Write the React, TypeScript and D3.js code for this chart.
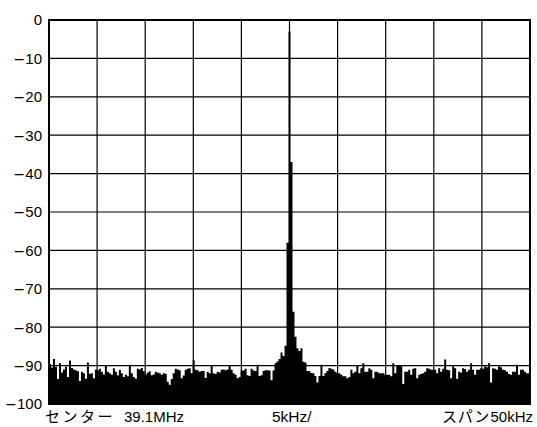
import React from "react";
import * as d3 from "d3";

// Spectrum analyser trace: level (dB) per frequency bin across the 50 kHz span
const levels: number[] = [
  -89.6, -90.5, -88.3, -90.3, -93.5, -89.4, -91.8, -91.0, -90.3, -93.0,
  -88.7, -90.6, -91.0, -91.2, -91.5, -94.0, -91.6, -92.0, -93.4, -89.2,
  -92.1, -92.0, -93.3, -91.0, -91.2, -90.8, -91.6, -92.3, -90.0, -91.6,
  -92.0, -92.4, -90.7, -91.6, -92.5, -91.1, -92.0, -93.0, -92.4, -92.8,
  -89.8, -92.0, -93.0, -93.4, -90.8, -91.0, -90.6, -91.5,
  -92.3, -91.8, -91.5, -92.5, -92.3, -91.6, -91.8, -92.0, -92.4, -92.0,
  -92.1, -94.2, -95.0, -93.5, -92.0, -90.8, -91.0, -91.2, -93.3, -92.6,
  -91.1, -90.8, -90.7, -92.0, -88.6, -91.1, -91.2, -91.6, -91.4, -91.4,
  -93.2, -91.6, -92.0, -89.9, -92.0, -92.2, -91.6, -91.8, -91.1, -91.0,
  -91.2, -91.0, -90.1, -91.1, -92.0, -92.4, -93.3, -93.0,
  -91.3, -91.3, -90.8, -92.5, -92.7, -90.8, -91.3, -91.4, -89.8, -92.7,
  -92.5, -91.4, -91.2, -91.2, -91.3, -93.8, -91.3, -89.4, -88.9, -88.3,
  -86.6, -87.5, -84.8, -58.0, -3.0, -37.0, -76.0, -82.5, -85.5, -86.2,
  -85.5, -89.0, -89.2, -91.4, -91.4, -91.9, -92.0, -92.7, -94.4, -92.7,
  -89.8, -92.7, -92.0, -91.4, -90.6, -90.8, -91.0, -91.6,
  -92.0, -92.0, -92.4, -92.8, -92.8, -93.3, -93.0, -91.1, -92.0, -91.6,
  -89.9, -92.0, -90.7, -89.4, -91.6, -91.6, -90.7, -91.1, -93.3, -91.6,
  -91.6, -92.0, -92.0, -92.0, -92.4, -92.4, -92.4, -92.8, -89.4, -92.0,
  -89.9, -90.0, -90.0, -94.8, -91.6, -91.6, -91.1, -92.4, -90.8, -90.7,
  -93.3, -92.4, -92.2, -92.0, -91.6, -90.7, -90.8, -91.1,
  -91.1, -91.1, -92.0, -90.7, -91.6, -90.8, -88.4, -91.1, -91.2, -93.3,
  -90.2, -90.7, -93.4, -91.6, -91.8, -90.7, -90.9, -91.6, -91.1, -89.4,
  -91.1, -92.4, -91.1, -91.1, -90.7, -90.8, -90.2, -90.4, -89.4, -94.4,
  -90.7, -90.8, -91.1, -90.2, -90.4, -91.1, -91.2, -91.6, -92.2, -92.4,
  -91.6, -91.6, -89.8, -92.4, -91.1, -91.1, -91.6, -92.0, -92.0,
];

const yTicks: number[] = [0, -10, -20, -30, -40, -50, -60, -70, -80, -90, -100];
const xDivisions: number[] = [0, 1, 2, 3, 4, 5, 6, 7, 8, 9, 10];
const centerWord = "センター";
const centerFreq = "39.1MHz";
const divLabel = "5kHz/";
const spanWord = "スパン";
const spanFreq = "50kHz";

const W = 537;
const H = 427;
const plot = { left: 49, right: 530, top: 20, bottom: 404 };
const LATIN = "'Liberation Sans', Arial, sans-serif";
const MINUS_FONT = "'DejaVu Sans', sans-serif";
const CJK = "'Noto Sans CJK JP', sans-serif";
const baseY = 422;

export default function App() {
  const n = levels.length;
  const x = d3.scaleLinear().domain([0, n]).range([plot.left, plot.right]);
  const xDiv = d3.scaleLinear().domain([0, 10]).range([plot.left, plot.right]);
  const y = d3.scaleLinear().domain([0, -100]).range([plot.top, plot.bottom]);

  const pts: [number, number][] = levels.map((v, i) => [i, v]);
  pts.push([n, levels[n - 1]]);
  const area = d3
    .area<[number, number]>()
    .x((d) => x(d[0]))
    .y0(y(-100))
    .y1((d) => y(d[1]))
    .curve(d3.curveStepAfter);

  return (
    <svg
      width={W}
      height={H}
      style={{ position: "absolute", left: 0, top: 0, background: "#fff" }}
    >
      {/* grid */}
      <g stroke="#000" strokeWidth={1.2}>
        {xDivisions.slice(1, -1).map((d) => (
          <line key={"v" + d} x1={xDiv(d)} x2={xDiv(d)} y1={plot.top} y2={plot.bottom} />
        ))}
        {yTicks.slice(1, -1).map((t) => (
          <line key={"h" + t} x1={plot.left} x2={plot.right} y1={y(t)} y2={y(t)} />
        ))}
      </g>

      {/* trace */}
      <path d={area(pts) || ""} fill="#000" stroke="none" />

      {/* frame */}
      <rect
        x={plot.left}
        y={plot.top}
        width={plot.right - plot.left}
        height={plot.bottom - plot.top}
        fill="none"
        stroke="#000"
        strokeWidth={2}
      />

      {/* y tick labels, with a wide minus sign */}
      <g fontSize={15} textAnchor="end" fill="#000" fontFamily={LATIN}>
        {yTicks.map((t) => (
          <text key={t} x={42} y={y(t)} dy="0.36em">
            {t < 0 ? (
              <tspan fontFamily={MINUS_FONT} fontSize={14}>
                {"\u2212"}
              </tspan>
            ) : null}
            {String(Math.abs(t))}
          </text>
        ))}
      </g>

      {/* bottom annotations */}
      <g fill="#000">
        <text x={45} y={baseY} fontFamily={CJK} fontSize={15} letterSpacing={2.5}>
          {centerWord}
        </text>
        <text x={124} y={baseY} fontFamily={LATIN} fontSize={15}>
          {centerFreq}
        </text>
        <text x={272} y={baseY} fontFamily={LATIN} fontSize={15.5}>
          {divLabel}
        </text>
        <text x={442} y={baseY} fontFamily={CJK} fontSize={15} letterSpacing={0.8}>
          {spanWord}
        </text>
        <text x={533} y={baseY} fontFamily={LATIN} fontSize={15} textAnchor="end">
          {spanFreq}
        </text>
      </g>
    </svg>
  );
}
